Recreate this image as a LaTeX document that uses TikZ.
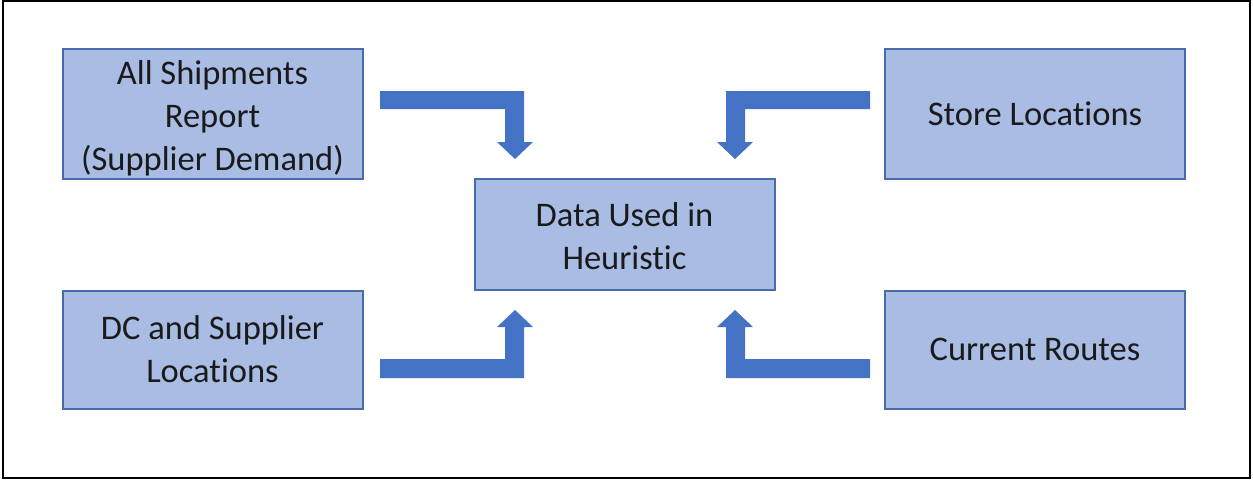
\documentclass[tikz,border=0pt]{standalone}
\usepackage{fontspec}
\setmainfont{Carlito}[Ligatures=NoCommon]
\definecolor{boxfill}{HTML}{A9BCE4}
\definecolor{boxline}{HTML}{4A6BAB}
\definecolor{arrowfill}{HTML}{4472C4}
\definecolor{textcol}{HTML}{1A1A1A}
\begin{document}
\begin{tikzpicture}[x=1pt,y=-1pt,
  boxtext/.style={align=center,inner sep=0pt,text=textcol,font=\fontsize{34.5}{43}\selectfont},
  databox/.style={boxtext,draw=boxline,line width=2pt,fill=boxfill,minimum width=300pt},
  bentarrow/.style={fill=arrowfill}]
\useasboundingbox (0,0) rectangle (1253,480);
\draw[line width=2pt] (3,1) rectangle (1250,478);

\node[databox,minimum height=130pt,
  label={[boxtext,yshift=-5pt]center:All Shipments\\Report\\(Supplier Demand)}] (ship) at (212.5,113.5) {};
\node[databox,minimum height=130pt] (store) at (1035,113.5) {Store Locations};
\node[databox,minimum height=111pt,
  label={[boxtext,yshift=-2pt]center:Data Used in\\Heuristic}] (data) at (624.5,234) {};
\node[databox,minimum height=118pt] (dc) at (212.5,349.5) {DC and Supplier\\Locations};
\node[databox,minimum height=118pt] (routes) at (1035,349.5) {Current Routes};

% bent arrows feeding the centre box
\fill[bentarrow] (380,91) -- (524,91) -- (524,142) -- (533,142) -- (515,159)
  -- (497,142) -- (505,142) -- (505,109) -- (380,109) -- cycle;
\fill[bentarrow] (380,378) -- (524,378) -- (524,327) -- (533,327) -- (515,310)
  -- (497,327) -- (505,327) -- (505,359) -- (380,359) -- cycle;
\fill[bentarrow] (870,91) -- (726,91) -- (726,142) -- (717,142) -- (735,159)
  -- (753,142) -- (745,142) -- (745,109) -- (870,109) -- cycle;
\fill[bentarrow] (870,378) -- (726,378) -- (726,327) -- (717,327) -- (735,310)
  -- (753,327) -- (745,327) -- (745,359) -- (870,359) -- cycle;
\end{tikzpicture}
\end{document}
